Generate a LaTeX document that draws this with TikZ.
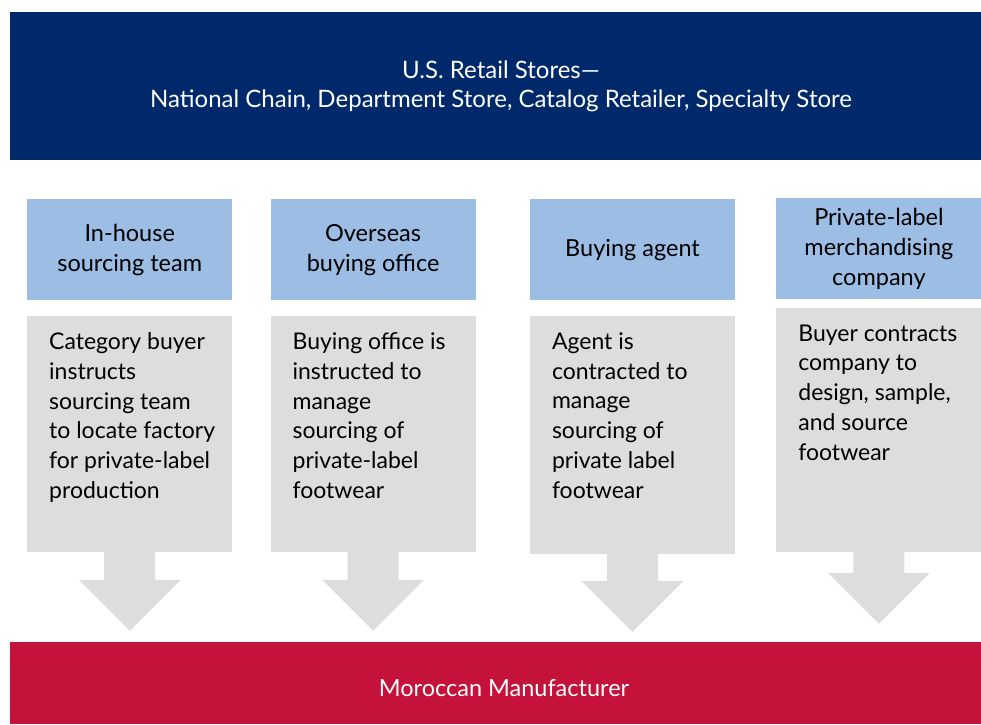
\documentclass[tikz,border=0pt]{standalone}
\usepackage{fontspec}
\setmainfont{Lato}
\usetikzlibrary{positioning, calc}

\definecolor{retailblue}{RGB}{0,41,107}
\definecolor{headblue}{RGB}{157,190,228}
\definecolor{boxgrey}{RGB}{221,221,221}
\definecolor{makerred}{RGB}{196,18,58}

\begin{document}
\begin{tikzpicture}[x=1pt, y=-1pt, node distance=15pt,
    banner/.style={rectangle, fill=retailblue, text=white, minimum width=982pt, minimum height=148pt, inner sep=0pt, align=center, font=\fontsize{24}{29}\selectfont},
    head/.style={rectangle, fill=headblue, minimum width=205pt, minimum height=101pt, inner sep=0pt, align=center, font=\fontsize{23.5}{30}\selectfont},
    body/.style={rectangle, fill=boxgrey, minimum width=205pt, inner sep=0pt},
    bodytext/.style={anchor=north west, inner xsep=22pt, inner ysep=17pt, align=left, font=\fontsize{23}{29.8}\selectfont},
    maker/.style={rectangle, fill=makerred, minimum width=988pt, minimum height=82pt, inner sep=0pt}]

    \useasboundingbox (0,0) rectangle (981,724);

    % retailer on top, manufacturer at the bottom (both run off the right edge)
    \node[banner] (retail) at (501,86) {U.S. Retail Stores---\\National Chain, Department Store, Catalog Retailer, Specialty Store};
    \node[maker] (maker) at (504,683) {};
    \node[text=white, font=\fontsize{23.5}{28}\selectfont] (makerlabel) at ([yshift=-5pt]maker.center) {Moroccan Manufacturer};

    % the four sourcing routes
    \node[head, anchor=north west] (h1) at (27,199) {In-house\\sourcing team};
    \node[head, right=38pt of h1] (h2) {Overseas\\buying office};
    \node[head, right=54pt of h2] (h3) {Buying agent};
    \node[head, right=41pt of h3, yshift=1pt] (h4) {Private-label\\merchandising\\company};

    \node[body, below=of h1, minimum height=236pt] (b1) {};
    \node[body, below=of h2, minimum height=236pt] (b2) {};
    \node[body, below=of h3, minimum height=238pt] (b3) {};
    \node[body, below=8pt of h4, minimum height=244pt] (b4) {};

    \node[bodytext] (t1) at (b1.north west) {Category buyer\\instructs\\sourcing team\\to locate factory\\for private-label\\production};
    \node[bodytext] (t2) at (b2.north west) {Buying office is\\instructed to\\manage\\sourcing of\\private-label\\footwear};
    \node[bodytext] (t3) at (b3.north west) {Agent is\\contracted to\\manage\\sourcing of\\private label\\footwear};
    \node[bodytext] (t4) at (b4.north west) {Buyer contracts\\company to\\design, sample,\\and source\\footwear};

    % block arrows down to the manufacturer
    \foreach \b/\s in {b1/28, b2/28, b3/27, b4/21}
        \fill[boxgrey] ($(\b.south)+(-25.5,-1)$) -- ++(0,\s+1) -- ++(-25.5,0) -- ++(51,51)
            -- ++(51,-51) -- ++(-25.5,0) -- ++(0,-\s-1) -- cycle;

\end{tikzpicture}
\end{document}
